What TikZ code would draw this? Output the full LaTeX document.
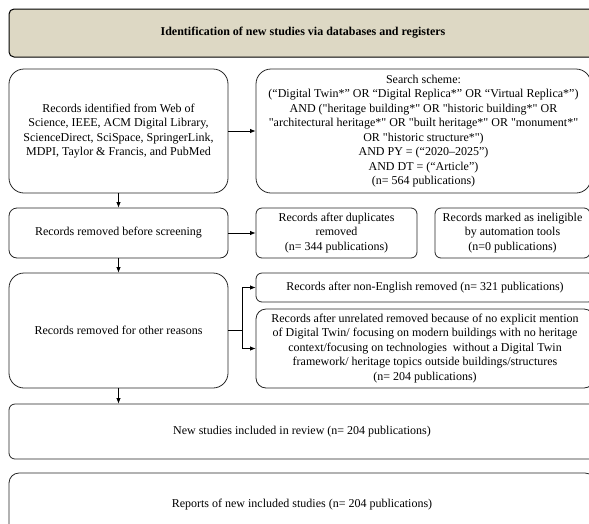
\documentclass[tikz,border=0pt]{standalone}
\usepackage{fontspec}
\setmainfont{Liberation Serif}[Ligatures=TeXOff]
\usetikzlibrary{arrows.meta}
\definecolor{headbeige}{RGB}{221,216,196}

\begin{document}
\begin{tikzpicture}[x=1pt,y=-1pt,>={Latex[length=5.5pt,width=4.5pt]},
        box/.style={shape=rectangle,draw=black!85,line width=0.8pt,rounded corners=6pt,align=center,
            font=\fontsize{12}{14.5}\selectfont,inner sep=0pt},
        bigbox/.style={box,rounded corners=15pt}]
        \useasboundingbox (0,0) rectangle (589,523);
        \clip (0,0) rectangle (589,523);
        % header
        \node[box,fill=headbeige,draw=black,line width=1pt,rounded corners=5pt,font=\fontsize{12}{14.5}\selectfont\bfseries,
            minimum width=588pt,minimum height=48pt](head) at (303,33) {Identification of new studies via databases and registers};
        % left column
        \node[bigbox,minimum width=219pt,minimum height=124pt](ident) at (118.5,131) {Records identified from Web of\\ Science, IEEE, ACM Digital Library,\\ ScienceDirect, SciSpace, SpringerLink,\\ MDPI, Taylor \& Francis, and PubMed};
        \node[box,rounded corners=8pt,minimum width=219pt,minimum height=50pt](before) at (118.5,233) {Records removed before screening};
        \node[bigbox,minimum width=219pt,minimum height=115pt](other) at (118.5,330.5) {Records removed for other reasons};
        % right column
        \node[bigbox,minimum width=335pt,minimum height=124pt](scheme) at (423.5,131) {Search scheme:\\ (“Digital Twin*” OR “Digital Replica*” OR “Virtual Replica*”)\\ AND ("heritage building*" OR "historic building*" OR\\ "architectural heritage*" OR "built heritage*" OR "monument*"\\ OR "historic structure*")\\ AND PY = (“2020–2025”)\\ AND DT = (“Article”)\\ (n= 564 publications)};
        \node[box,minimum width=161pt,minimum height=50pt](dupl) at (336.5,233) {Records after duplicates\\ removed\\ (n= 344 publications)};
        \node[box,minimum width=155pt,minimum height=50pt](inelig) at (512.5,233) {Records marked as ineligible\\ by automation tools\\ (n=0 publications)};
        \node[box,minimum width=338pt,minimum height=29pt](nonen) at (425,287.5) {Records after non-English removed (n= 321 publications)};
        \node[box,rounded corners=10pt,minimum width=338pt,minimum height=79pt](unrel) at (425,348.5) {Records after unrelated removed because of no explicit mention\\ of Digital Twin/ focusing on modern buildings with no heritage\\ context/focusing on technologies \ without a Digital Twin\\ framework/ heritage topics outside buildings/structures\\ (n= 204 publications)};
        % bottom
        \node[box,minimum width=586pt,minimum height=55pt](incl) at (302,431.5) {New studies included in review (n= 204 publications)};
        \node[box,rounded corners=10pt,minimum width=586pt,minimum height=64pt](report) at (302,505) {Reports of new included studies (n= 204 publications)};
        % connectors
        \path [->] (ident) edge[thick] (scheme);
        \path [->] (ident) edge[thick] (before);
        \path [->] (before) edge[thick] (dupl);
        \path [->] (before) edge[thick] (other);
        \draw[->,thick] (other.east) -- ++(14,0) |- (nonen.west);
        \draw[->,thick] (other.east) -- ++(14,0) |- (unrel.west);
        \draw[->,thick] (other.south) -- (other.south |- incl.north);
    \end{tikzpicture}
\end{document}
